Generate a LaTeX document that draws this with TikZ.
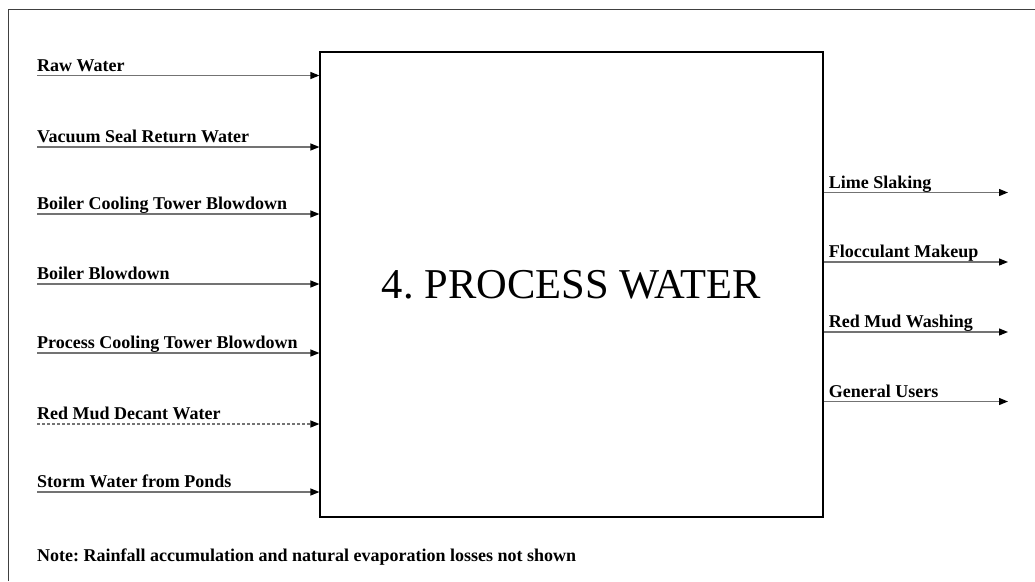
\documentclass[tikz,border=0pt]{standalone}
\usepackage{fontspec}
\setmainfont{Liberation Serif}
\frenchspacing
\usetikzlibrary{arrows.meta}
\tikzset{
  flow/.style={draw=black!55, line width=1.2pt, -{Triangle[black,length=9pt,width=7pt]}},
  decant/.style={flow, dash pattern=on 3pt off 2pt},
  lbl/.style={anchor=base west, inner sep=0pt, font=\bfseries\fontsize{18}{21}\selectfont},
  unit/.style={draw, line width=1.2pt, minimum width=503pt, minimum height=465pt, inner sep=0pt,
    font=\fontsize{42.5}{48}\selectfont},
}
\begin{document}
\begin{tikzpicture}[x=1pt,y=-1pt]
      \useasboundingbox (0,0) rectangle (1035,581);
      % frame
      \draw[black!75, line width=1pt] (8,581) -- (8,9) -- (1035,9);
      \node[unit] (pw) at (571.5,284.5) {\raisebox{-3pt}{4. PROCESS WATER}};
      % inputs
      \coordinate (raw) at (37,75.5);
      \coordinate (vac) at (37,147);
      \coordinate (bct) at (37,214);
      \coordinate (bbd) at (37,284);
      \coordinate (pct) at (37,353);
      \coordinate (rmd) at (37,424);
      \coordinate (stw) at (37,492);
      \node[lbl] (rawl) at ([yshift=4.5pt]raw) {Raw Water};
      \node[lbl] (vacl) at ([yshift=4.5pt]vac) {Vacuum Seal Return Water};
      \node[lbl] (bctl) at ([yshift=4.5pt]bct) {Boiler Cooling Tower Blowdown};
      \node[lbl] (bbdl) at ([yshift=4.5pt]bbd) {Boiler Blowdown};
      \node[lbl] (pctl) at ([yshift=4.5pt]pct) {Process Cooling Tower Blowdown};
      \node[lbl] (rmdl) at ([yshift=4.5pt]rmd) {Red Mud Decant Water};
      \node[lbl] (stwl) at ([yshift=4.5pt]stw) {Storm Water from Ponds};
      \begin{scope}
        \draw[flow] (raw) to (raw -| pw.west);
        \draw[flow] (vac) to (vac -| pw.west);
        \draw[flow] (bct) to (bct -| pw.west);
        \draw[flow] (bbd) to (bbd -| pw.west);
        \draw[flow] (pct) to (pct -| pw.west);
        \draw[decant] (rmd) to (rmd -| pw.west);
        \draw[flow] (stw) to (stw -| pw.west);
      \end{scope}
      % outputs
      \coordinate (lim) at (1008,192.5);
      \coordinate (flo) at (1008,262);
      \coordinate (rmw) at (1008,332);
      \coordinate (gen) at (1008,401.5);
      \node[lbl] (liml) at ([xshift=5pt,yshift=4.5pt]lim -| pw.east) {Lime Slaking};
      \node[lbl] (flol) at ([xshift=5pt,yshift=4.5pt]flo -| pw.east) {Flocculant Makeup};
      \node[lbl] (rmwl) at ([xshift=5pt,yshift=4.5pt]rmw -| pw.east) {Red Mud Washing};
      \node[lbl] (genl) at ([xshift=5pt,yshift=4.5pt]gen -| pw.east) {General Users};
      \begin{scope}
        \draw[flow] (lim -| pw.east) to (lim);
        \draw[flow] (flo -| pw.east) to (flo);
        \draw[flow] (rmw -| pw.east) to (rmw);
        \draw[flow] (gen -| pw.east) to (gen);
      \end{scope}
      \node[lbl] (note) at (37,561) {Note: Rainfall accumulation and natural evaporation losses not shown};
    \end{tikzpicture}
\end{document}
